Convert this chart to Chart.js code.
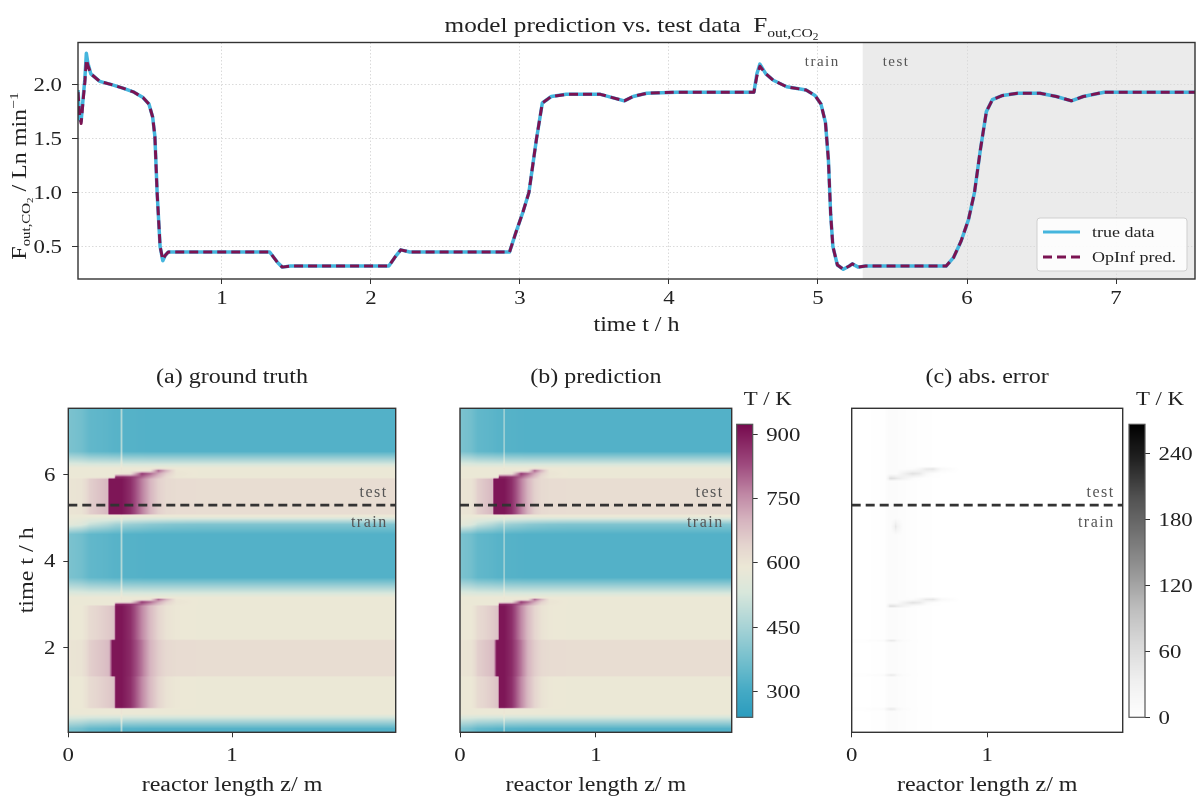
<!DOCTYPE html>
<html>
<head>
<meta charset="utf-8">
<title>OpInf prediction vs. test data</title>
<script src="https://cdn.jsdelivr.net/npm/chart.js@4.4.1/dist/chart.umd.min.js"></script>
<style>
  html, body { margin: 0; padding: 0; background: #fff; }
  #wrap { position: relative; width: 1196px; height: 796px; overflow: hidden; }
  #wrap canvas { position: absolute; }
</style>
</head>
<body>
<div id="wrap">
  <canvas id="lineChart" width="1196" height="340" style="left:0;top:0"></canvas>
  <canvas id="heatTruth" width="420" height="436" style="left:0;top:360px"></canvas>
  <canvas id="heatPred" width="320" height="436" style="left:420px;top:360px"></canvas>
  <canvas id="cbTemp" width="80" height="436" style="left:736px;top:360px"></canvas>
  <canvas id="heatErr" width="330" height="436" style="left:800px;top:360px"></canvas>
  <canvas id="cbErr" width="70" height="436" style="left:1126px;top:360px"></canvas>
</div>
<script>
// ---------- top panel: outlet flow F_out,CO2 (Ln/min) over time (h) ----------
const timeH = [0.034, 0.045, 0.055, 0.07, 0.08, 0.09, 0.10, 0.12, 0.18, 0.26, 0.33, 0.41, 0.47, 0.51,
  0.535, 0.55, 0.565, 0.585, 0.603, 0.62, 0.64, 1.32, 1.375, 1.405, 1.46, 2.12, 2.16, 2.20, 2.26,
  2.93, 2.97, 3.02, 3.06, 3.11, 3.15, 3.21, 3.31, 3.54, 3.62, 3.70, 3.76, 3.85, 4.05, 4.57, 4.59,
  4.61, 4.65, 4.70, 4.79, 4.92, 4.98, 5.02, 5.05, 5.07, 5.085, 5.10, 5.13, 5.17, 5.21, 5.23, 5.27,
  5.32, 5.86, 5.91, 5.96, 6.01, 6.05, 6.09, 6.13, 6.17, 6.24, 6.34, 6.49, 6.60, 6.70, 6.78, 6.92, 7.53];
const trueData = [1.95, 1.68, 1.66, 1.90, 2.05, 2.29, 2.20, 2.10, 2.03, 2.00, 1.97, 1.93, 1.88, 1.82,
  1.70, 1.52, 1.00, 0.50, 0.37, 0.42, 0.45, 0.45, 0.35, 0.31, 0.32, 0.32, 0.40, 0.47, 0.45,
  0.45, 0.62, 0.82, 1.00, 1.49, 1.83, 1.89, 1.91, 1.91, 1.88, 1.85, 1.89, 1.92, 1.93, 1.93, 2.10,
  2.19, 2.10, 2.04, 1.98, 1.95, 1.90, 1.82, 1.65, 1.30, 0.80, 0.50, 0.33, 0.29, 0.32, 0.34, 0.31,
  0.32, 0.32, 0.40, 0.55, 0.75, 1.00, 1.40, 1.75, 1.86, 1.90, 1.92, 1.92, 1.89, 1.85, 1.89, 1.93, 1.93];
const opinfPred = [1.93, 1.72, 1.64, 1.88, 2.02, 2.23, 2.18, 2.10, 2.03, 2.00, 1.97, 1.93, 1.88, 1.82,
  1.70, 1.52, 1.00, 0.50, 0.38, 0.42, 0.45, 0.45, 0.35, 0.31, 0.32, 0.32, 0.40, 0.47, 0.45,
  0.45, 0.62, 0.82, 1.00, 1.49, 1.83, 1.89, 1.91, 1.91, 1.88, 1.85, 1.89, 1.92, 1.93, 1.93, 2.08,
  2.17, 2.10, 2.04, 1.98, 1.95, 1.90, 1.82, 1.65, 1.30, 0.80, 0.50, 0.33, 0.29, 0.32, 0.34, 0.31,
  0.32, 0.32, 0.40, 0.55, 0.75, 1.00, 1.40, 1.75, 1.86, 1.90, 1.92, 1.92, 1.89, 1.85, 1.89, 1.93, 1.93];
const timeTicks = [1, 2, 3, 4, 5, 6, 7];
const flowTicks = [0.5, 1.0, 1.5, 2.0];
const testStart = 5.3;   // h, start of the test window

// ---------- heat maps: T(z, t) on key time rows, profiles given at zKnots ----------
const zKnots = [0, 0.08, 0.11, 0.13, 0.24, 0.25, 0.27, 0.28, 0.29, 0.315, 0.325, 0.335, 0.38, 0.45, 0.5, 0.55, 0.6, 0.66, 0.8, 2.0];
const cold     = [385, 370, 355, 345, 336, 334, 331, 330, 330, 328, 470, 328, 326, 324, 322, 322, 322, 322, 322, 322];
const coldLeft = [565, 545, 525, 505, 470, 465, 455, 450, 445, 440, 520, 440, 430, 420, 410, 405, 400, 395, 390, 390];
const warm     = [588, 588, 588, 588, 588, 588, 588, 588, 588, 588, 600, 588, 588, 588, 588, 588, 588, 588, 588, 588];
const hotA     = [588, 590, 605, 625, 658, 662, 670, 678, 905, 905, 905, 900, 870, 760, 690, 640, 605, 592, 588, 588];
const hotB     = [600, 603, 625, 650, 685, 695, 905, 905, 905, 905, 905, 900, 875, 780, 700, 655, 630, 622, 620, 620];
const hotC     = [600, 603, 625, 650, 692, 905, 905, 905, 905, 905, 905, 900, 870, 770, 700, 650, 628, 622, 620, 620];
const wedge1   = [588, 588, 588, 588, 588, 588, 588, 600, 880, 880, 880, 880, 860, 800, 740, 680, 625, 595, 588, 588];
const wedge2   = [588, 588, 588, 588, 588, 588, 588, 588, 590, 595, 600, 600, 610, 850, 800, 720, 650, 600, 588, 588];
const wedge3   = [588, 588, 588, 588, 588, 588, 588, 588, 588, 588, 595, 588, 588, 590, 600, 800, 700, 595, 588, 588];
const truthRowT = [0, 0.1, 0.45, 0.56, 0.6, 1.3, 1.34, 2.15, 2.19, 2.95, 2.99, 3.05, 3.11, 3.15, 3.62,
  4.62, 4.85, 5.04, 5.06, 5.1, 5.9, 5.95, 6.03, 6.1, 6.16, 6.55, 7.6];
const truthRows = [cold, cold, warm, warm, hotA, hotA, hotB, hotB, hotA, hotA, wedge1, wedge2, wedge3, warm, cold,
  cold, coldLeft, warm, warm, hotC, hotC, wedge1, wedge2, wedge3, warm, cold, cold];
// the prediction is visually the same field
const predRowT = truthRowT;
const predRows = truthRows;

// absolute error (K)
const errBase = [1, 1, 1, 1, 2, 5, 8, 8, 8, 8, 9, 8, 6, 4, 3, 2, 1, 1, 0, 0];
const errEdge = [2, 2, 4, 6, 10, 20, 35, 40, 45, 40, 30, 20, 10, 5, 3, 2, 1, 1, 0, 0];
const errW1   = [1, 1, 1, 1, 2, 5, 30, 55, 60, 55, 50, 45, 30, 10, 4, 2, 1, 1, 0, 0];
const errW2   = [1, 1, 1, 1, 2, 5, 8, 8, 8, 8, 9, 10, 30, 55, 45, 15, 4, 1, 0, 0];
const errW3   = [1, 1, 1, 1, 2, 5, 8, 8, 8, 8, 9, 8, 6, 8, 20, 45, 50, 15, 0, 0];
const errSpot = [1, 1, 1, 1, 2, 5, 8, 8, 10, 30, 50, 30, 6, 4, 3, 2, 1, 1, 0, 0];
const errRowT = [0, 0.5, 0.56, 0.62, 1.3, 1.35, 1.4, 2.1, 2.15, 2.2, 2.9, 2.95, 3.03, 3.11, 3.17,
  4.6, 4.8, 5.0, 5.85, 5.92, 6.03, 6.14, 6.2, 7.6];
const errRows = [errBase, errBase, errEdge, errBase, errBase, errEdge, errBase, errBase, errEdge, errBase,
  errBase, errW1, errW2, errW3, errBase, errBase, errSpot, errBase, errBase, errW1, errW2, errW3, errBase, errBase];

const zTicks = [0, 1];
const tTicks = [2, 4, 6];
const tempRange = [240, 923];
const tempTicks = [300, 450, 600, 750, 900];
const errRange = [0, 267];
const errTicks = [0, 60, 120, 180, 240];

// ---------- styles ----------
const SERIF = '"Liberation Serif", "Times New Roman", serif';
const SX = 1.2;          // the figure's serif runs wide, stretch text horizontally
const INK = '#222';
const FRAME = '#333';
const CYAN = '#45b5dd';
const PURPLE = '#7b1352';
const TICK = 19;

function makeCmap(stops, colors){
    const rgb = colors.map(h => [1, 3, 5].map(i => parseInt(h.slice(i, i + 2), 16)));
    return v => {
        if(v <= stops[0]) return rgb[0];
        for(let k = 1; k < stops.length; k++){
            if(v <= stops[k]){
                const f = (v - stops[k - 1]) / (stops[k] - stops[k - 1]);
                return rgb[k - 1].map((c, i) => c + (rgb[k][i] - c) * f);
            }
        }
        return rgb[rgb.length - 1];
    };
}
const tempCmap = makeCmap([240, 300, 360, 450, 530, 590, 640, 700, 760, 830, 923],
    ['#2b9cbe', '#44aac5', '#6cbccc', '#a7d3d6', '#d8e7dc', '#ece8d6', '#e5d5cf', '#d6b4bf', '#c088a5', '#9e4a7e', '#760a4e']);
const greyCmap = makeCmap([0, 33, 67, 100, 133, 167, 200, 233, 267],
    ['#ffffff', '#f0f0f0', '#d9d9d9', '#bdbdbd', '#969696', '#737373', '#525252', '#252525', '#000000']);

// text made of runs (sub/superscripts), stretched along its own direction
function richText(ctx, runs, x, y, size, align){
    if(typeof runs === 'string') runs = [{ t: runs }];
    let w = 0;
    runs.forEach(r => { ctx.font = `${size * (r.s || 1)}px ${SERIF}`; r.w = ctx.measureText(r.t).width; w += r.w; });
    ctx.save();
    ctx.translate(x, y);
    ctx.scale(SX, 1);
    let cx = align === 'center' ? -w / 2 : (align === 'right' ? -w : 0);
    ctx.textAlign = 'left';
    ctx.textBaseline = 'alphabetic';
    runs.forEach(r => {
        ctx.font = `${size * (r.s || 1)}px ${SERIF}`;
        ctx.fillText(r.t, cx, (r.dy || 0) * size);
        cx += r.w;
    });
    ctx.restore();
}

function frame(ctx, a, color, width){
    ctx.save();
    ctx.strokeStyle = color || FRAME;
    ctx.lineWidth = width || 1.4;
    ctx.strokeRect(a.left, a.top, a.right - a.left, a.bottom - a.top);
    ctx.restore();
}

function fixedTicks(values){
    return scale => { scale.ticks = values.map(v => ({ value: v })); };
}

function xTickLabels(ctx, scale, values, y, fmt){
    ctx.fillStyle = INK;
    values.forEach(v => richText(ctx, fmt ? fmt(v) : String(v), scale.getPixelForValue(v), y, TICK, 'center'));
}
function yTickLabels(ctx, scale, values, x, align, fmt){
    ctx.fillStyle = INK;
    values.forEach(v => richText(ctx, fmt ? fmt(v) : String(v), x, scale.getPixelForValue(v) + 6.4, TICK, align));
}

// ---------- top line chart ----------
const pts = (xs, ys) => xs.map((x, i) => ({ x, y: ys[i] }));

const lineDecor = {
    id: 'lineDecor',
    beforeDraw(chart){
        const { ctx, chartArea: a, scales: { x } } = chart;
        const xs = x.getPixelForValue(testStart);
        ctx.save();
        ctx.fillStyle = '#ebebeb';
        ctx.fillRect(xs, a.top, a.right - xs, a.bottom - a.top);
        ctx.restore();
    },
    afterDraw(chart){
        const { ctx, chartArea: a, scales: { x, y } } = chart;
        frame(ctx, a);
        ctx.save();
        xTickLabels(ctx, x, timeTicks, a.bottom + 25);
        yTickLabels(ctx, y, flowTicks, a.left - 16, 'right', v => v.toFixed(1));
        ctx.fillStyle = INK;
        richText(ctx, [{ t: 'model prediction vs. test data  F' }, { t: 'out,CO', s: 0.62, dy: 0.22 }, { t: '2', s: 0.45, dy: 0.36 }],
            (a.left + a.right) / 2 - 5, 32, 21, 'center');
        richText(ctx, 'time t / h', (a.left + a.right) / 2, 331, 20, 'center');
        ctx.translate(26, 176);
        ctx.rotate(-Math.PI / 2);
        richText(ctx, [{ t: 'F' }, { t: 'out,CO', s: 0.62, dy: 0.22 }, { t: '2', s: 0.45, dy: 0.36 }, { t: ' / Ln min' }, { t: '\u22121', s: 0.65, dy: -0.42 }],
            0, 0, 20, 'center');
        ctx.restore();

        // train / test labels
        const xs = x.getPixelForValue(testStart);
        ctx.save();
        ctx.fillStyle = '#555';
        ctx.font = `15px ${SERIF}`;
        ctx.letterSpacing = '1.5px';
        ctx.textAlign = 'right';
        ctx.fillText('train', xs - 23, 66);
        ctx.textAlign = 'left';
        ctx.fillText('test', xs + 20, 66);
        ctx.restore();

        // legend (lower right, inside the axes)
        const bw = 150, bh = 53;
        const bx = a.right - 8 - bw, by = a.bottom - 8 - bh;
        ctx.save();
        ctx.fillStyle = 'rgba(255,255,255,0.85)';
        ctx.strokeStyle = '#cfcfcf';
        ctx.lineWidth = 1;
        ctx.beginPath();
        ctx.roundRect(bx, by, bw, bh, 3);
        ctx.fill();
        ctx.stroke();
        const items = chart.data.datasets.slice().sort((p, q) => p.legendRank - q.legendRank);
        items.forEach((ds, i) => {
            const ly = by + 14 + i * 25;
            ctx.strokeStyle = ds.borderColor;
            ctx.lineWidth = 3;
            ctx.setLineDash(ds.borderDash || []);
            ctx.beginPath();
            ctx.moveTo(bx + 6, ly);
            ctx.lineTo(bx + 43, ly);
            ctx.stroke();
            ctx.setLineDash([]);
            ctx.fillStyle = INK;
            richText(ctx, ds.label, bx + 55, ly + 5, 15, 'left');
        });
        ctx.restore();
    }
};

new Chart(document.getElementById('lineChart'), {
    type: 'line',
    data: {
        datasets: [
            { label: 'true data', legendRank: 0, order: 1, data: pts(timeH, trueData), borderColor: CYAN, borderWidth: 3.5,
              borderJoinStyle: 'round', pointRadius: 0, tension: 0 },
            { label: 'OpInf pred.', legendRank: 1, order: 0, data: pts(timeH, opinfPred), borderColor: PURPLE, borderWidth: 3,
              borderDash: [9, 5], borderJoinStyle: 'round', pointRadius: 0, tension: 0 }
        ]
    },
    options: {
        responsive: false,
        animation: false,
        events: [],
        layout: { padding: { left: 0, top: 42.5, right: 1, bottom: 0 } },
        plugins: { legend: { display: false }, tooltip: { enabled: false } },
        scales: {
            x: {
                type: 'linear', min: 0.034, max: 7.53,
                afterBuildTicks: fixedTicks(timeTicks),
                afterFit: s => { s.height = 61; },
                grid: { color: '#dadada', lineWidth: 1, tickColor: FRAME, tickLength: 5 },
                border: { display: false, dash: [1.5, 2] },
                ticks: { display: false }
            },
            y: {
                type: 'linear', min: 0.2, max: 2.39,
                afterBuildTicks: fixedTicks(flowTicks),
                afterFit: s => { s.width = 78; },
                grid: { color: '#dadada', lineWidth: 1, tickColor: FRAME, tickLength: 6 },
                border: { display: false, dash: [1.5, 2] },
                ticks: { display: false }
            }
        }
    },
    plugins: [lineDecor]
});

// ---------- heat maps ----------
function heatField(rowT, rows, cmap, title, showY){
    return {
        id: 'heatField',
        beforeDatasetsDraw(chart){
            const { ctx, chartArea: a, scales: { x, y } } = chart;
            const x0 = Math.round(a.left), x1 = Math.round(a.right);
            const y0 = Math.round(a.top), y1 = Math.round(a.bottom);
            const w = x1 - x0, h = y1 - y0;
            const img = ctx.createImageData(w, h);
            const colK = [], colF = [];
            for(let i = 0; i < w; i++){
                const z = x.getValueForPixel(x0 + i + 0.5);
                let k = 0;
                while(k < zKnots.length - 2 && z > zKnots[k + 1]) k++;
                colK.push(k);
                colF.push(Math.min(1, Math.max(0, (z - zKnots[k]) / (zKnots[k + 1] - zKnots[k]))));
            }
            for(let j = 0; j < h; j++){
                const t = y.getValueForPixel(y0 + j + 0.5);
                let r = 0;
                while(r < rowT.length - 2 && t > rowT[r + 1]) r++;
                const f = Math.min(1, Math.max(0, (t - rowT[r]) / (rowT[r + 1] - rowT[r])));
                const A = rows[r], B = rows[r + 1];
                const prof = A.map((v, k) => v + (B[k] - v) * f);
                for(let i = 0; i < w; i++){
                    const k = colK[i];
                    const v = prof[k] + (prof[k + 1] - prof[k]) * colF[i];
                    const c = cmap(v);
                    const p = (j * w + i) * 4;
                    img.data[p] = c[0]; img.data[p + 1] = c[1]; img.data[p + 2] = c[2]; img.data[p + 3] = 255;
                }
            }
            ctx.putImageData(img, x0, y0);
        },
        afterDraw(chart){
            const { ctx, chartArea: a, scales: { x, y } } = chart;
            const ys = y.getPixelForValue(testStart);
            ctx.save();
            ctx.fillStyle = '#555';
            ctx.font = `16px ${SERIF}`;
            ctx.letterSpacing = '1.5px';
            ctx.textAlign = 'right';
            ctx.textBaseline = 'alphabetic';
            ctx.fillText('test', a.right - 8, ys - 8);
            ctx.fillText('train', a.right - 8, ys + 22);
            ctx.restore();
            frame(ctx, a);
            ctx.save();
            xTickLabels(ctx, x, zTicks, a.bottom + 29);
            if(showY) yTickLabels(ctx, y, tTicks, a.left - 13, 'right');
            ctx.fillStyle = INK;
            richText(ctx, title, (a.left + a.right) / 2, 23, 20, 'center');
            richText(ctx, 'reactor length z/ m', (a.left + a.right) / 2, 431, 20, 'center');
            if(showY){
                ctx.translate(33, (a.top + a.bottom) / 2);
                ctx.rotate(-Math.PI / 2);
                richText(ctx, 'time t / h', 0, 0, 20, 'center');
            }
            ctx.restore();
        }
    };
}

function heatChart(id, title, rowT, rows, cmap, padLeft, padRight, showY){
    return new Chart(document.getElementById(id), {
        type: 'scatter',
        data: {
            datasets: [{
                data: [{ x: 0, y: testStart }, { x: 2, y: testStart }],
                showLine: true, borderColor: '#333', borderWidth: 2.6, borderDash: [9, 5], pointRadius: 0
            }]
        },
        options: {
            responsive: false,
            animation: false,
            events: [],
            layout: { padding: { left: padLeft, top: 48.3, right: padRight, bottom: 0 } },
            plugins: { legend: { display: false }, tooltip: { enabled: false } },
            scales: {
                x: {
                    type: 'linear', min: 0, max: 2,
                    afterBuildTicks: fixedTicks(zTicks),
                    afterFit: s => { s.height = 63.7; },
                    grid: { drawOnChartArea: false, tickColor: FRAME, tickLength: 5 },
                    border: { display: false },
                    ticks: { display: false }
                },
                y: {
                    type: 'linear', min: 0.02, max: 7.55,
                    afterBuildTicks: fixedTicks(showY ? tTicks : []),
                    afterFit: s => { s.width = showY ? 68.3 : 0; },
                    grid: { display: showY, drawOnChartArea: false, tickColor: FRAME, tickLength: 5 },
                    border: { display: false },
                    ticks: { display: false }
                }
            }
        },
        plugins: [heatField(rowT, rows, cmap, title, showY)]
    });
}

heatChart('heatTruth', '(a) ground truth', truthRowT, truthRows, tempCmap, 0, 24.3, true);
heatChart('heatPred', '(b) prediction', predRowT, predRows, tempCmap, 40, 8.3, false);
heatChart('heatErr', '(c) abs. error', errRowT, errRows, greyCmap, 51.7, 7.3, false);

// ---------- colour bars ----------
function colorbar(id, range, ticks, cmap, padLeft, totalW){
    const barW = 16;
    return new Chart(document.getElementById(id), {
        type: 'scatter',
        data: { datasets: [] },
        options: {
            responsive: false,
            animation: false,
            events: [],
            layout: { padding: { left: padLeft, top: 64.3, right: 0, bottom: 78.7 } },
            plugins: { legend: { display: false }, tooltip: { enabled: false } },
            scales: {
                x: {
                    type: 'linear', min: 0, max: 1,
                    afterBuildTicks: fixedTicks([]),
                    afterFit: s => { s.height = 0; },
                    grid: { display: false }, border: { display: false }, ticks: { display: false }
                },
                y: {
                    type: 'linear', position: 'right', min: range[0], max: range[1],
                    afterBuildTicks: fixedTicks(ticks),
                    afterFit: s => { s.width = totalW - padLeft - barW; },
                    grid: { drawOnChartArea: false, tickColor: FRAME, tickLength: 5 },
                    border: { display: false },
                    ticks: { display: false }
                }
            }
        },
        plugins: [{
            id: 'bar',
            beforeDatasetsDraw(chart){
                const { ctx, chartArea: a, scales: { y } } = chart;
                for(let py = Math.floor(a.top); py < Math.ceil(a.bottom); py++){
                    const c = cmap(y.getValueForPixel(py + 0.5));
                    ctx.fillStyle = `rgb(${c[0] | 0},${c[1] | 0},${c[2] | 0})`;
                    ctx.fillRect(a.left, py, a.right - a.left, 1);
                }
            },
            afterDraw(chart){
                const { ctx, chartArea: a, scales: { y } } = chart;
                frame(ctx, a, '#555', 1.2);
                ctx.save();
                yTickLabels(ctx, y, ticks, a.right + 13.5, 'left');
                ctx.fillStyle = INK;
                richText(ctx, 'T / K', a.left + 31, 45, 19, 'center');
                ctx.restore();
            }
        }]
    });
}

colorbar('cbTemp', tempRange, tempTicks, tempCmap, 0.7, 80);
colorbar('cbErr', errRange, errTicks, greyCmap, 3, 70);
</script>
</body>
</html>
